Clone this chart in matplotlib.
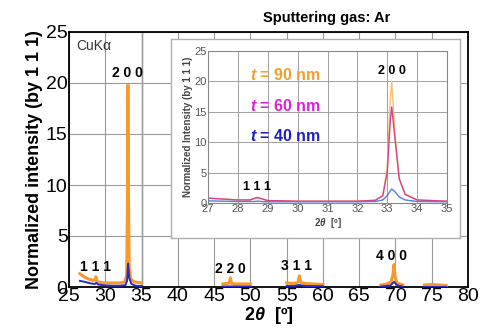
import matplotlib.pyplot as plt
import numpy as np

plt.rcParams['font.family'] = ['Liberation Sans', 'DejaVu Sans']
plt.rcParams['mathtext.fontset'] = 'custom'
plt.rcParams['mathtext.rm'] = 'Liberation Sans'
plt.rcParams['mathtext.it'] = 'Liberation Sans:italic'
plt.rcParams['mathtext.bf'] = 'Liberation Sans:bold'
plt.rcParams['mathtext.bfit'] = 'Liberation Sans:bold:italic'

# main panel, t = 90 nm (orange) and t = 40 nm (blue), measured segments
x90 = [[26.5, 26.8, 27.2, 27.8, 28.4, 28.6, 28.7, 28.85, 29.2, 30, 31, 32, 32.7, 32.95, 33.05, 33.12, 33.2, 33.3, 33.5, 34, 35],
       [46.2, 46.8, 47.1, 47.25, 47.4, 48, 49, 50],
       [55, 55.8, 56.4, 56.6, 56.75, 56.95, 57.5, 58.5, 60],
       [68, 68.8, 69.4, 69.65, 69.8, 69.95, 70.2, 71],
       [74, 75, 76, 77]]
y90 = [[1.3, 1.15, 0.95, 0.75, 0.65, 0.7, 1.0, 0.55, 0.45, 0.4, 0.4, 0.4, 0.5, 1.2, 8.0, 19.8, 9.0, 2.0, 0.8, 0.5, 0.4],
       [0.3, 0.35, 0.4, 0.9, 0.35, 0.3, 0.3, 0.3],
       [0.4, 0.35, 0.4, 0.5, 1.1, 0.45, 0.35, 0.3, 0.25],
       [0.2, 0.3, 0.5, 1.2, 2.2, 1.0, 0.4, 0.2],
       [0.2, 0.25, 0.2, 0.15]]
x40 = [[26.5, 27.2, 28, 28.6, 28.75, 29, 30, 31, 32, 32.8, 33.0, 33.15, 33.3, 33.6, 34.2, 35],
       [46.2, 48, 50],
       [55, 56, 56.7, 57.5, 60],
       [68, 69.3, 69.8, 70.3, 71],
       [74, 77]]
y40 = [[0.6, 0.5, 0.35, 0.3, 0.4, 0.25, 0.15, 0.12, 0.12, 0.2, 0.6, 2.3, 0.9, 0.3, 0.12, 0.1],
       [0.05, 0.06, 0.05],
       [0.1, 0.1, 0.2, 0.1, 0.08],
       [0.05, 0.15, 0.5, 0.15, 0.05],
       [0.03, 0.03]]

# inset, 27-35 deg
xi = [27, 27.5, 28, 28.4, 28.55, 28.65, 28.8, 29, 29.5, 30, 31, 32, 32.6, 32.85, 33.0, 33.1, 33.15, 33.25, 33.4, 33.6, 34, 35]
yi90 = [0.8, 0.65, 0.5, 0.5, 0.75, 0.9, 0.7, 0.4, 0.35, 0.3, 0.3, 0.3, 0.45, 1.2, 6.0, 17.0, 20.0, 12.0, 4.0, 1.5, 0.5, 0.3]
yi60 = [0.8, 0.65, 0.5, 0.5, 0.75, 0.9, 0.7, 0.4, 0.35, 0.3, 0.3, 0.3, 0.45, 1.2, 5.0, 13.5, 15.8, 11.0, 4.0, 1.4, 0.5, 0.3]
yi40 = [0.35, 0.3, 0.25, 0.25, 0.25, 0.3, 0.25, 0.2, 0.2, 0.2, 0.2, 0.2, 0.25, 0.5, 1.2, 2.0, 2.3, 1.9, 1.0, 0.5, 0.25, 0.2]

main_peaks = [("1 1 1", 28.6, 1.3), ("2 0 0", 33.1, 20.3), ("2 2 0", 47.2, 1.1),
              ("3 1 1", 56.4, 1.4), ("4 0 0", 69.5, 2.4)]
thick_labels = ["90", "60", "40"]
thick_y = [21.0, 16.0, 11.0]
c90, c60, c40 = '#f59a2c', '#d9408a', '#2a2ac8'
label_cols = ['#f0a030', '#e020d8', '#2020c0']

fig = plt.figure(figsize=(4.83, 3.31), dpi=100)
ax = fig.add_axes([69/483, 1 - 287/331, 399/483, 255/331])
for xs, ys in zip(x90, y90):
    ax.plot(xs, ys, color=c90, lw=2.2, zorder=3)
for xs, ys in zip(x40, y40):
    ax.plot(xs, ys, color=c40, lw=1.4, zorder=4)
ax.axvline(35, color='#333333', lw=0.9, zorder=1)
ax.set_xlim(25, 80); ax.set_ylim(0, 25)
ax.set_xticks(np.arange(25, 81, 5)); ax.set_yticks(np.arange(0, 26, 5))
ax.grid(True, color='#9a9a9a', lw=0.8)
ax.tick_params(length=0, labelsize=14, pad=1)
for s in ax.spines.values():
    s.set_linewidth(1.3)
ax.set_xlabel(r'2$\mathbfit{\theta}$  [º]', fontsize=13, fontweight='bold', labelpad=0)
ax.set_ylabel('Normalized intensity (by 1 1 1)', fontsize=13, fontweight='bold', labelpad=2)
ax.text(26.0, 23.2, 'CuKα', fontsize=10, color='#333333')
for lab, xp, yp in main_peaks:
    ax.text(xp, yp, lab, fontsize=10, fontweight='bold', ha='center', va='bottom')
fig.text(327/483, 1 - 18/331, 'Sputtering gas: Ar', fontsize=10.5, fontweight='bold', ha='center', va='center')

# inset frame
box = fig.add_axes([171/483, 1 - 238/331, 289/483, 199/331])
box.set_xticks([]); box.set_yticks([])
box.set_facecolor('white')
for s in box.spines.values():
    s.set_color('#b0b0b0'); s.set_linewidth(1.0)

ins = fig.add_axes([208/483, 1 - 203/331, 239/483, 152/331])
ins.plot(xi, yi90, color='#f8c070', lw=1.0)
ins.plot(xi, yi60, color=c60, lw=1.0)
ins.plot(xi, yi40, color='#5080e0', lw=1.0)
ins.set_xlim(27, 35); ins.set_ylim(0, 25)
ins.set_xticks(np.arange(27, 36, 1)); ins.set_yticks(np.arange(0, 26, 5))
ins.grid(True, color='#a0a0a0', lw=0.7)
ins.tick_params(length=0, labelsize=8, labelcolor='#555555', pad=1)
for s in ins.spines.values():
    s.set_color('#888888'); s.set_linewidth(0.8)
ins.set_xlabel(r'2$\mathbfit{\theta}$  [º]', fontsize=7, fontweight='bold', color='#444444', labelpad=1)
ins.set_ylabel('Normalized Intensity (by 1 1 1)', fontsize=7, fontweight='bold', color='#444444', labelpad=1)
ins.text(28.65, 1.6, '1 1 1', fontsize=9, fontweight='bold', ha='center', va='bottom')
ins.text(33.15, 20.8, '2 0 0', fontsize=9, fontweight='bold', ha='center', va='bottom')
for t, yt, col in zip(thick_labels, thick_y, label_cols):
    ins.text(28.4, yt, r'$\mathbfit{t}$ = ' + t + ' nm', fontsize=11.5, fontweight='bold',
             color=col, ha='left', va='center')

fig.savefig('out.png', dpi=100)
